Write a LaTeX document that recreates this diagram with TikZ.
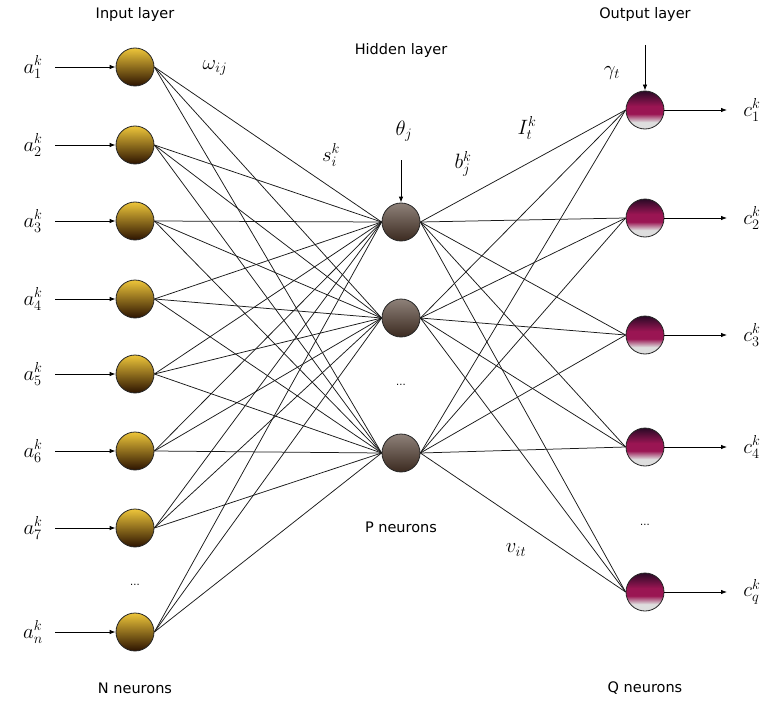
\documentclass[tikz,border=0pt]{standalone}
\usepackage{fontspec}
\setmainfont{DejaVu Sans}
\usetikzlibrary{arrows.meta}

\definecolor{goldtop}{HTML}{EDC53A}
\definecolor{goldmid}{HTML}{A56C1C}
\definecolor{goldbot}{HTML}{2C1300}
\definecolor{hidtop}{HTML}{8E8179}
\definecolor{hidbot}{HTML}{3B2A20}
\definecolor{outgray}{HTML}{DEDEDE}
\definecolor{outmag}{HTML}{9A1553}
\definecolor{outdark}{HTML}{2A0A26}

\pgfdeclareverticalshading{outshade}{100bp}{%
  color(0bp)=(outgray); color(34bp)=(outgray); color(45bp)=(outmag);
  color(55bp)=(outmag); color(75bp)=(outdark); color(100bp)=(outdark)}

\tikzset{
  neuron/.style={circle, draw=black!85, line width=0.8pt, minimum size=38pt, inner sep=0pt},
  inneuron/.style={neuron, top color=goldtop, middle color=goldmid, bottom color=goldbot},
  hidneuron/.style={neuron, top color=hidtop, bottom color=hidbot},
  outneuron/.style={neuron, shading=outshade},
  link/.style={line width=0.75pt, black!90},
  feed/.style={line width=0.8pt, -{Latex[length=6pt,width=4.5pt]}},
  caption/.style={font=\fontsize{14.5}{17}\selectfont},
  sym/.style={font=\fontsize{22}{24}\selectfont, inner sep=1pt},
  dots/.style={font=\fontsize{10}{12}\selectfont}
}

\begin{document}
\begin{tikzpicture}[x=1pt,y=-1pt]
\useasboundingbox (0,0) rectangle (764,701);

% input layer
\foreach \i/\y in {1/67,2/145,3/221,4/299,5/374,6/451,7/528,n/632}{
  \node[inneuron] (in\i) at (135,\y) {};
  \node[sym] (a\i) at (33,\y) {$a_{\i}^{k}$};
  \coordinate (src\i) at (55,\y);
  \draw[feed] (src\i) -- (in\i.west);
}
\node[dots] (indots) at (135,585) {...};

% hidden layer
\foreach \j/\y in {1/222,2/318,3/453}{
  \node[hidneuron] (hid\j) at (401,\y) {};
}
\node[dots] (hiddots) at (401,385) {...};

% output layer
\foreach \t/\y in {1/110,2/218,3/335,4/447,q/592}{
  \node[outneuron] (out\t) at (645,\y) {};
  \coordinate (dst\t) at (727,\y);
  \draw[feed] (out\t.east) -- (dst\t);
  \node[sym] (c\t) at (752,\y) {$c_{\t}^{k}$};
}
\node[dots] (outdots) at (645,525) {...};

% full connections
\foreach \i in {1,...,7,n}{
  \foreach \j in {1,2,3}{
    \draw[link] (in\i.east) -- (hid\j.west);
  }
}
\foreach \j in {1,2,3}{
  \foreach \t in {1,2,3,4,q}{
    \draw[link] (hid\j.east) -- (out\t.west);
  }
}

% thresholds
\coordinate (thsrc) at (401,160);
\draw[feed] (thsrc) -- (hid1.north);
\node[sym] (theta) at (404,131) {$\theta_{j}$};
\coordinate (gmsrc) at (645,45);
\draw[feed] (gmsrc) -- (out1.north);
\node[sym] (gamma) at (612,73) {$\gamma_{t}$};

% weight and signal labels
\node[sym] (omega) at (215,68) {$\omega_{ij}$};
\node[sym] (s) at (331,155) {$s_{i}^{k}$};
\node[sym] (b) at (463,164) {$b_{j}^{k}$};
\node[sym] (I) at (527,128) {$I_{t}^{k}$};
\node[sym] (v) at (516,550) {$v_{it}$};

% captions
\node[caption] (inlab) at (135,15) {Input layer};
\node[caption] (hidlab) at (401,51) {Hidden layer};
\node[caption] (outlab) at (645,15) {Output layer};
\node[caption] (nlab) at (135,688) {N neurons};
\node[caption] (plab) at (401,527) {P neurons};
\node[caption] (qlab) at (645,688) {Q neurons};
\end{tikzpicture}
\end{document}
